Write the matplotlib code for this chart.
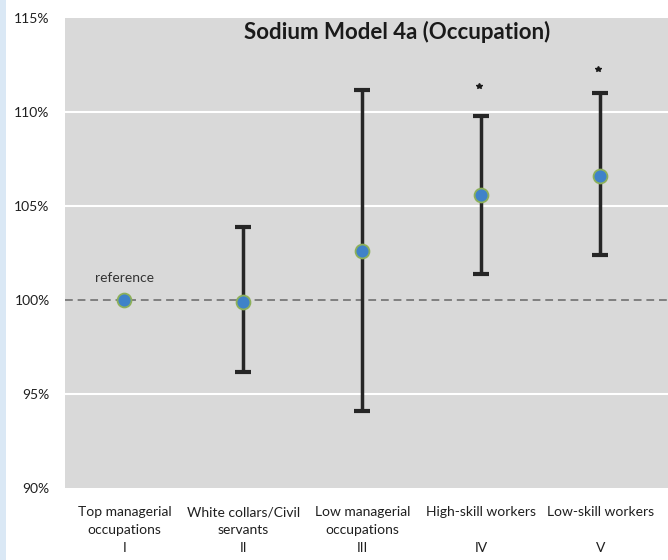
import numpy as np
import matplotlib.pyplot as plt
from matplotlib.patches import Rectangle

# Data (percent of reference group)
categories = ["Top managerial\noccupations", "White collars/Civil\nservants",
              "Low managerial\noccupations", "High-skill workers\n", "Low-skill workers\n"]
romans = ["I", "II", "III", "IV", "V"]
estimate = [100.0, 99.9, 102.6, 105.6, 106.6]
ci_low = [100.0, 96.2, 94.1, 101.4, 102.4]
ci_high = [100.0, 103.9, 111.2, 109.8, 111.0]
star_y = [np.nan, np.nan, np.nan, 111.4, 112.3]

plt.rcParams['font.family'] = ['Lato', 'DejaVu Sans']

fig = plt.figure(figsize=(6.68, 5.6), dpi=100)
fig.patch.set_facecolor('white')
# light blue strip on the left edge
fig.patches.append(Rectangle((0, 0), 6 / 668, 1, transform=fig.transFigure,
                             facecolor='#dae8f5', edgecolor='none', zorder=0))

ax = fig.add_axes([65 / 668, 1 - 488.3 / 560, (668 - 65) / 668, 470 / 560])
ax.set_facecolor('#d9d9d9')
for s in ax.spines.values():
    s.set_visible(False)

x = np.arange(1, len(estimate) + 1)
est = np.array(estimate)
lo = np.array(ci_low)
hi = np.array(ci_high)

# gridlines
for g in [95, 105, 110]:
    ax.axhline(g, color='white', lw=1.5, zorder=1)
ax.axhline(100, color='#7f7f7f', lw=1.4, ls=(0, (4, 2.5)), zorder=2)

# confidence intervals (skip reference group)
m = x > 1
ax.errorbar(x[m], est[m], yerr=[est[m] - lo[m], hi[m] - est[m]], fmt='none',
            ecolor='#262626', elinewidth=2.5, capsize=6, capthick=3, zorder=3)
ax.plot(x, est, 'o', ms=10, mfc='#3f82c9', mec='#8db05a', mew=1.3, zorder=4)
ax.plot(x - 0.02, star_y, '*', ms=4, color='#1a1a1a', zorder=4)

ax.text(1, 101.2, "reference", ha='center', va='center', fontsize=10, color='#333333')
fig.text(397 / 668, 1 - 32 / 560, "Sodium Model 4a (Occupation)", fontsize=16,
         fontweight='bold', color='#1a1a1a', ha='center', va='center')

ax.set_xlim(0.5, 5.57)
ax.set_ylim(90, 115)
ax.set_yticks([90, 95, 100, 105, 110, 115])
ax.set_yticklabels(["90%", "95%", "100%", "105%", "110%", "115%"])
ax.set_xticks(x)
ax.set_xticklabels([c + "\n" + r for c, r in zip(categories, romans)],
                   linespacing=1.6, va='top')
ax.tick_params(axis='both', length=0, labelsize=10, labelcolor='#1f1f1f')
ax.tick_params(axis='x', pad=13)
ax.tick_params(axis='y', pad=11)

fig.savefig("out.png", dpi=100)
